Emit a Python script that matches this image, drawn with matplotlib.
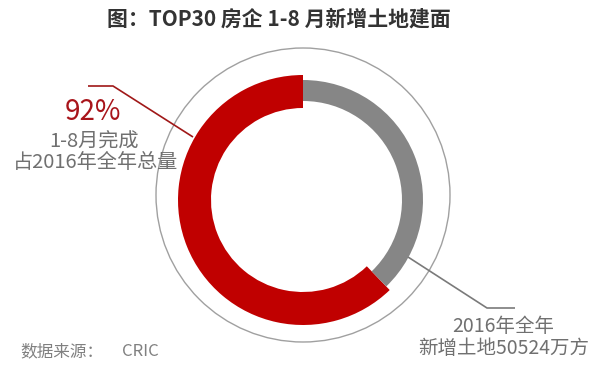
import matplotlib

matplotlib.use("Agg")
import matplotlib.pyplot as plt
from matplotlib.patches import Circle

plt.rcParams["font.family"] = ["Noto Sans CJK SC", "DejaVu Sans"]

# --- data ---
TITLE = "图：TOP30 房企 1-8 月新增土地建面"
labels = ["1-8月完成", "其余"]
ring_shares = [62.2, 37.8]          # arc split as drawn
share_text = "92%"
done_text = ["1-8月完成", "占2016年全年总量"]
total_text = ["2016年全年", "新增土地50524万方"]
source_label = "数据来源："
source_name = "CRIC"

RED = "#c00000"
GREY = "#868686"
TXT = "#707070"
H = 373

fig = plt.figure(figsize=(6, 3.73), dpi=100)
ax = fig.add_axes([0, 0, 1, 1])

# ---- donut (pixel coords, y up) ----
cx, cy = 303, H - 200
wedges, _ = ax.pie(ring_shares, colors=[RED, GREY], startangle=90,
                   counterclock=True, center=(cx, cy), radius=125,
                   wedgeprops=dict(linewidth=0))
wedges[0].set_radius(125)
wedges[0].set_width(33)
wedges[1].set_radius(120)
wedges[1].set_width(21)

# thin outer ring
ax.add_patch(Circle((303, H - 195), 147, fill=False,
                    edgecolor="#a0a0a0", linewidth=1.0))

ax.set_xlim(0, 600)
ax.set_ylim(0, H)
ax.set_aspect("auto")
ax.axis("off")

# ---- leader lines ----
ax.plot([88, 113, 193], [H - 86, H - 86, H - 137], color="#a01818",
        linewidth=1.2, solid_capstyle="butt")
ax.plot([408, 487, 515], [H - 257, H - 308, H - 308], color="#7a7a7a",
        linewidth=1.2, solid_capstyle="butt")

# ---- texts ----
ax.text(107, H - 19, TITLE, ha="left", va="center", fontsize=15,
        fontweight="bold", color="#333333")

ax.text(93, H - 112, share_text, ha="center", va="center", fontsize=20,
        color="#a8141a")
ax.text(94, H - 142, done_text[0], ha="center", va="center", fontsize=14.5,
        color=TXT)
ax.text(96, H - 162, done_text[1], ha="center", va="center", fontsize=14.5,
        color=TXT)

ax.text(503, H - 326, total_text[0], ha="center", va="center", fontsize=14,
        color=TXT)
ax.text(504, H - 348, total_text[1], ha="center", va="center", fontsize=14,
        color=TXT)

ax.text(20, H - 352, source_label, ha="left", va="center", fontsize=12,
        color="#808080")
ax.text(122, H - 352, source_name, ha="left", va="center", fontsize=12,
        color="#808080")

fig.savefig("out.png", dpi=100, facecolor="white")
